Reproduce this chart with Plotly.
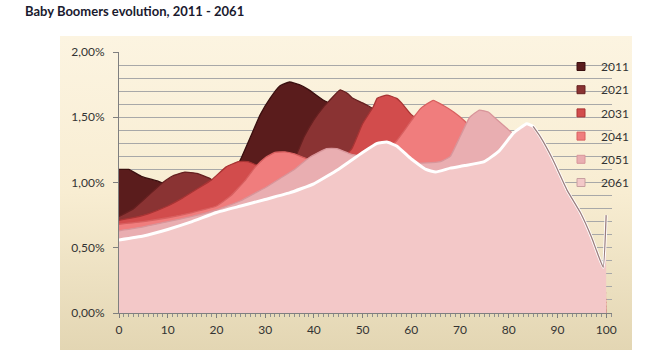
import base64
import plotly.graph_objects as go

# ---------------- data (share of population, %, by age) ----------------
years = ["2011", "2021", "2031", "2041", "2051", "2061"]

ages_2011 = [0, 2, 4.7, 8, 10, 15, 20, 23, 25, 27, 29, 31, 33, 35, 37, 39, 42, 45, 50, 55, 60, 65, 70, 75, 80, 85, 90, 95, 100]
vals_2011 = [1.10, 1.10, 1.045, 1.01, 0.98, 0.96, 0.98, 1.05, 1.18, 1.35, 1.52, 1.645, 1.74, 1.77, 1.75, 1.71, 1.63, 1.58, 1.50, 1.40, 1.30, 1.20, 1.05, 0.90, 0.75, 0.55, 0.30, 0.10, 0.02]

ages_2021 = [0, 3, 6, 9, 11, 13.5, 16, 18.7, 20, 25, 30, 35, 36.5, 38, 40, 42, 43, 45.4, 47, 48, 50, 51.5, 55, 60, 65, 70, 75, 80, 85, 90, 95, 100]
vals_2021 = [0.74, 0.80, 0.90, 1.00, 1.05, 1.08, 1.07, 1.03, 1.00, 1.02, 1.05, 1.15, 1.22, 1.35, 1.48, 1.58, 1.62, 1.71, 1.68, 1.645, 1.61, 1.58, 1.50, 1.40, 1.28, 1.15, 1.00, 0.85, 0.65, 0.45, 0.20, 0.05]

ages_2031 = [0, 3, 6, 10, 13, 16, 19, 22, 24.5, 26.5, 28.5, 30, 33, 36, 40, 44, 46, 47.8, 50, 52.2, 53, 55, 57, 58, 60, 62, 65, 70, 75, 80, 85, 90, 95, 100]
vals_2031 = [0.71, 0.73, 0.76, 0.82, 0.88, 0.95, 1.02, 1.12, 1.16, 1.16, 1.13, 1.12, 1.10, 1.08, 1.10, 1.15, 1.19, 1.26, 1.45, 1.58, 1.645, 1.67, 1.645, 1.61, 1.52, 1.47, 1.42, 1.30, 1.20, 1.05, 0.85, 0.60, 0.30, 0.08]

ages_2041 = [0, 5, 10, 15, 20, 23, 26, 28, 30, 32, 34, 36, 38, 40, 45, 50, 55, 57, 59, 60.5, 62, 64.5, 66.6, 68.7, 71, 72, 75, 80, 85, 90, 95, 100]
vals_2041 = [0.68, 0.70, 0.73, 0.77, 0.82, 0.90, 1.02, 1.12, 1.19, 1.23, 1.235, 1.22, 1.19, 1.16, 1.15, 1.18, 1.25, 1.32, 1.42, 1.50, 1.57, 1.63, 1.59, 1.54, 1.47, 1.43, 1.35, 1.20, 1.00, 0.75, 0.40, 0.10]

ages_2051 = [0, 5, 10, 15, 20, 25, 28, 30, 33, 36, 39, 42.6, 44.7, 47.4, 50, 55, 60, 63, 66, 68, 70, 72, 74, 75.8, 77.6, 79.6, 81, 85, 90, 95, 99, 100]
vals_2051 = [0.63, 0.66, 0.70, 0.74, 0.79, 0.86, 0.92, 0.96, 1.03, 1.10, 1.19, 1.26, 1.26, 1.22, 1.20, 1.18, 1.15, 1.15, 1.16, 1.20, 1.35, 1.50, 1.555, 1.54, 1.48, 1.415, 1.37, 1.20, 0.90, 0.50, 0.20, 0.15]

ages_2061 = [0, 5, 10, 15, 20, 25, 30, 35, 40, 45, 50, 53, 55, 57, 60, 63, 65, 68, 71, 75, 78, 81, 83.7, 85, 86.5, 89, 92, 94.7, 97, 98, 99.4, 100]
vals_2061 = [0.56, 0.59, 0.64, 0.70, 0.77, 0.82, 0.87, 0.92, 0.99, 1.10, 1.23, 1.30, 1.31, 1.28, 1.18, 1.10, 1.08, 1.11, 1.13, 1.16, 1.24, 1.38, 1.45, 1.43, 1.35, 1.18, 0.94, 0.77, 0.58, 0.48, 0.35, 0.75]

x_ticks = [0, 10, 20, 30, 40, 50, 60, 70, 80, 90, 100]
y_ticks = [0, 0.5, 1.0, 1.5, 2.0]
y_ticktext = ["0,00%", "0,50%", "1,00%", "1,50%", "2,00%"]

series = {
    "2011": (ages_2011, vals_2011),
    "2021": (ages_2021, vals_2021),
    "2031": (ages_2031, vals_2031),
    "2041": (ages_2041, vals_2041),
    "2051": (ages_2051, vals_2051),
    "2061": (ages_2061, vals_2061),
}

# ---------------- styles ----------------
fill_col = {"2011": "#5A1C1C", "2021": "#8A3333", "2031": "#D24C4C",
            "2041": "#F07D7D", "2051": "#E9AEB1", "2061": "#F3C8C8"}
line_col = {"2011": "#3A0F0F", "2021": "#662020", "2031": "#A83434",
            "2041": "#D86060", "2051": "#D8959A", "2061": "#FFFFFF"}
line_w = {"2011": 1.3, "2021": 1.3, "2031": 1.3, "2041": 1.3, "2051": 1.3, "2061": 3}

FONT = "Lato, Carlito, 'Open Sans', sans-serif"

fig = go.Figure()

for yr in years:
    ax, vals = series[yr]
    fig.add_trace(go.Scatter(
        x=ax, y=vals, mode="lines", fill="tozeroy",
        fillcolor=fill_col[yr],
        line=dict(color=line_col[yr], width=line_w[yr], shape="spline", smoothing=0.35),
        showlegend=False, hoverinfo="skip", name=yr,
    ))

# grey side edge of the front series after its peak
peak_i = vals_2061.index(max(vals_2061))
fig.add_trace(go.Scatter(
    x=ages_2061[peak_i + 1:], y=vals_2061[peak_i + 1:], mode="lines",
    line=dict(color="#9C7E7E", width=1.3, shape="spline", smoothing=0.35),
    showlegend=False, hoverinfo="skip",
))

# legend entries (small squares)
for yr in years:
    fig.add_trace(go.Scatter(
        x=[None], y=[None], mode="markers", name=yr, legendgroup=yr,
        marker=dict(symbol="square", size=8, color=fill_col[yr],
                    line=dict(color=line_col[yr] if yr != "2061" else "#C8A0A0", width=1)),
    ))

# background gradient box
svg = ('<svg xmlns="http://www.w3.org/2000/svg" width="572" height="314" preserveAspectRatio="none">'
       '<defs><linearGradient id="g" x1="0" y1="0" x2="0" y2="1">'
       '<stop offset="0" stop-color="#FCF4E1"/>'
       '<stop offset="0.5" stop-color="#F8EDD2"/>'
       '<stop offset="1" stop-color="#E3D6B3"/>'
       '</linearGradient></defs>'
       '<rect width="572" height="314" fill="url(#g)"/></svg>')
src = "data:image/svg+xml;base64," + base64.b64encode(svg.encode()).decode()

L, R, T, B = 119, 612, 52, 313
W, H = R - L, B - T
bx0, bx1, by0, by1 = 60, 632, 36, 350

fig.add_layout_image(dict(
    source=src, xref="paper", yref="paper",
    x=(bx0 - L) / W, y=(B - by0) / H,
    sizex=(bx1 - bx0) / W, sizey=(by1 - by0) / H,
    xanchor="left", yanchor="top", sizing="stretch", layer="below",
))

fig.update_layout(
    width=649, height=360,
    margin=dict(l=L, r=649 - R, t=T, b=360 - B),
    paper_bgcolor="white", plot_bgcolor="rgba(0,0,0,0)",
    font=dict(family=FONT, size=12, color="#333333"),
    title=dict(text="<b>Baby Boomers evolution, 2011 - 2061</b>",
               x=25 / 649, xanchor="left", xref="container",
               y=1 - 11 / 360, yanchor="middle", yref="container",
               font=dict(family=FONT, size=13, color="#1A1A2E")),
    legend=dict(x=(561 - L) / W, xanchor="left", y=(B - 52) / H, yanchor="top",
                bgcolor="rgba(0,0,0,0)", font=dict(size=12, color="#333333"),
                tracegroupgap=4.2, traceorder="grouped"),
    showlegend=True,
)

fig.update_xaxes(
    range=[0, 101.2], tickvals=x_ticks, ticktext=[str(v) for v in x_ticks],
    showgrid=False, zeroline=False, showline=True, linecolor="#7F7F7F", linewidth=1,
    ticks="outside", ticklen=4, tickcolor="#7F7F7F", ticklabelstandoff=2,
    minor=dict(dtick=1, tick0=0, ticks="outside", ticklen=3, tickcolor="#8F8F8F", showgrid=False),
    tickfont=dict(size=12, color="#333333"),
)
fig.update_yaxes(
    range=[0, 2.0], tickvals=y_ticks, ticktext=y_ticktext,
    showgrid=True, gridcolor="#A8A8A8", gridwidth=1,
    minor=dict(dtick=0.1, tick0=0, showgrid=True, gridcolor="#A8A8A8", gridwidth=1, ticks=""),
    zeroline=False, showline=True, linecolor="#7F7F7F", linewidth=1,
    ticks="outside", ticklen=5, tickcolor="#7F7F7F", ticklabelstandoff=6,
    tickfont=dict(size=12, color="#333333"),
)

fig.write_html("out.html", config={"displayModeBar": False},
               post_script="document.body.style.margin='0';document.body.style.padding='0';")
